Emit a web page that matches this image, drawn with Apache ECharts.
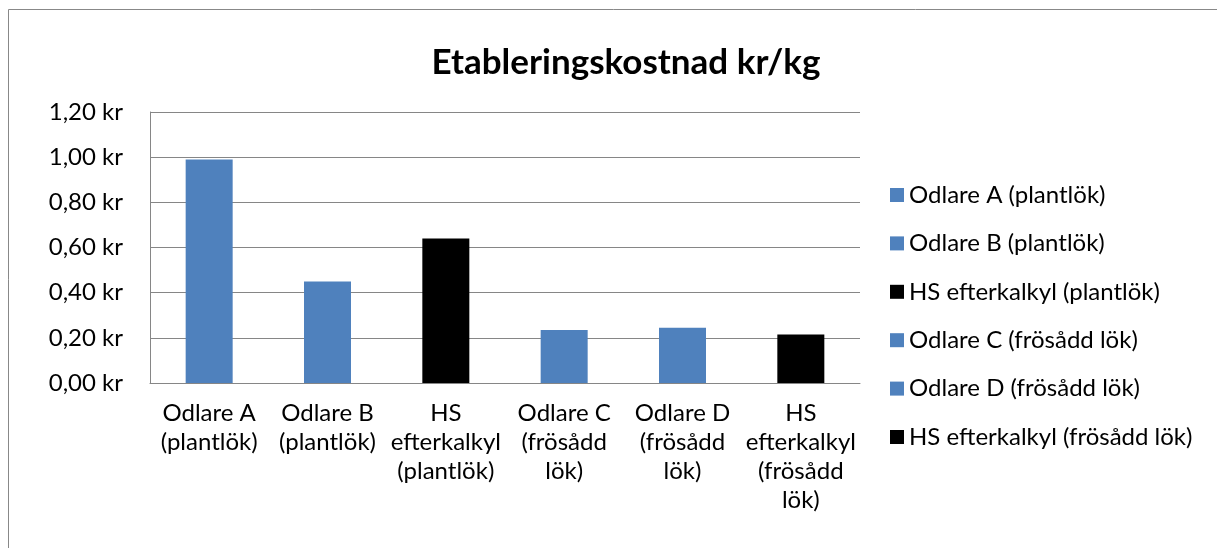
<!DOCTYPE html>
<html>
<head>
<meta charset="utf-8">
<script src="https://cdn.jsdelivr.net/npm/echarts@6/dist/echarts.min.js"></script>
<style>
  html, body { margin: 0; padding: 0; background: #fff; }
  #chart { width: 1217px; height: 548px; }
</style>
</head>
<body>
<div id="chart"></div>
<script>
// kategorier (x-axel) och seriernas namn
var categories = [
  'Odlare A\n(plantlök)',
  'Odlare B\n(plantlök)',
  'HS\nefterkalkyl\n(plantlök)',
  'Odlare C\n(frösådd\nlök)',
  'Odlare D\n(frösådd\nlök)',
  'HS\nefterkalkyl\n(frösådd\nlök)'
];
var seriesNames = [
  'Odlare A (plantlök)',
  'Odlare B (plantlök)',
  'HS efterkalkyl (plantlök)',
  'Odlare C (frösådd lök)',
  'Odlare D (frösådd lök)',
  'HS efterkalkyl (frösådd lök)'
];
// kr/kg
var values = [0.99, 0.45, 0.64, 0.235, 0.245, 0.215];
var colors = ['#4F81BD', '#4F81BD', '#000000', '#4F81BD', '#4F81BD', '#000000'];
var yTicks = [0, 0.2, 0.4, 0.6, 0.8, 1.0, 1.2];

var FONT = 'Lato';

var myChart = echarts.init(document.getElementById('chart'));

var series = seriesNames.map(function (name, i) {
  return {
    name: name,
    type: 'bar',
    stack: 'alla',
    barWidth: 47,
    itemStyle: { color: colors[i] },
    data: categories.map(function (c, j) { return j === i ? values[i] : '-'; })
  };
});

var option = {
  animation: false,
  textStyle: { fontFamily: FONT },
  graphic: [{
    type: 'rect',
    shape: { x: 8.5, y: 9.5, width: 1400, height: 700 },
    style: { fill: null, stroke: '#888888', lineWidth: 1 }
  }],
  title: {
    text: 'Etableringskostnad kr/kg',
    left: 621,
    textAlign: 'center',
    top: 40,
    textStyle: { fontFamily: FONT, fontWeight: 'bold', fontSize: 35, color: '#000' }
  },
  legend: {
    orient: 'vertical',
    left: 885,
    top: 178,
    icon: 'rect',
    itemWidth: 14,
    itemHeight: 14,
    itemGap: 24.4,
    data: seriesNames,
    textStyle: { fontFamily: FONT, fontSize: 24, lineHeight: 24, color: '#000' }
  },
  grid: { left: 150, right: 357, top: 112, bottom: 165, containLabel: false },
  xAxis: {
    type: 'category',
    data: categories,
    axisLine: { lineStyle: { color: '#868686' } },
    axisTick: { show: false },
    axisLabel: { interval: 0, margin: 16, color: '#000', fontFamily: FONT, fontSize: 24, lineHeight: 29 }
  },
  yAxis: {
    type: 'value',
    min: yTicks[0],
    max: yTicks[yTicks.length - 1],
    interval: 0.2,
    axisLine: { show: true, lineStyle: { color: '#868686' } },
    axisTick: { show: false },
    splitLine: { lineStyle: { color: '#868686' } },
    axisLabel: {
      margin: 27,
      color: '#000',
      fontFamily: FONT,
      fontSize: 24,
      formatter: function (v) { return v.toFixed(2).replace('.', ',') + ' kr'; }
    }
  },
  series: series
};

myChart.setOption(option, true);
</script>
</body>
</html>
